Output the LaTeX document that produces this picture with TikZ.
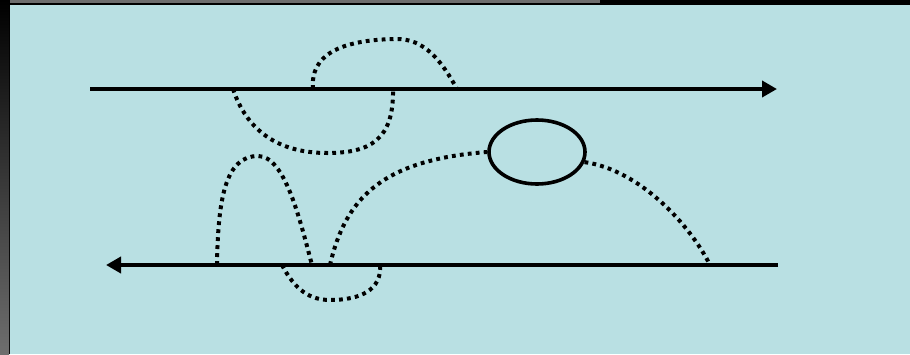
\documentclass[tikz,border=0pt]{standalone}
\usepackage{xcolor}
\definecolor{slidecyan}{HTML}{B9E0E3}
\definecolor{framegrey}{HTML}{6E6E6E}
\usepackage{tikz}
\usetikzlibrary{shapes.geometric,arrows.meta,positioning}

\begin{document}
\begin{tikzpicture}[x=1pt,y=-1pt,
    flowline/.style={line width=4.4pt,-{Triangle[length=15pt,width=16pt]}},
    loopline/.style={line width=4pt,dash pattern=on 3.8pt off 4.2pt},
    ring/.style={draw,ellipse,line width=3.6pt,minimum width=96pt,minimum height=64pt,inner sep=0pt}]
  \useasboundingbox (0,0) rectangle (910,354);
  % frame
  \fill[black] (0,0) rectangle (910,354);
  \shade[top color=black,bottom color=framegrey] (0,0) rectangle (9,354);
  \fill[framegrey] (10,0) rectangle (600,3);
  \fill[slidecyan] (10,5) rectangle (910,354);

  \coordinate (topL) at (90,89);
  \coordinate (topR) at (777,89);
  \coordinate (botR) at (778,265);
  \coordinate (botL) at (106,265);
  \draw[flowline] (topL) -- (topR);
  \draw[flowline] (botR) -- (botL);

  \node[ring] (knot) at (537,152) {};

  % crossings on the upper line
  \coordinate (u1) at (233,89);
  \coordinate (u2) at (313,89);
  \coordinate (u3) at (393,89);
  \coordinate (u4) at (457,89);
  \draw[loopline] (u2) .. controls (310,55) and (340,40) .. (395,39)
                       .. controls (425,38) and (442,62) .. (u4);
  \draw[loopline] (u1) .. controls (250,140) and (290,153) .. (327,153)
                       .. controls (370,153) and (394,140) .. (u3);

  % crossings on the lower line
  \coordinate (d1) at (217,265);
  \coordinate (d2) at (282,265);
  \coordinate (d3) at (312,265);
  \coordinate (d4) at (330,265);
  \coordinate (d5) at (380,265);
  \coordinate (d6) at (710,265);
  \draw[loopline] (d1) .. controls (218,200) and (225,156) .. (258,156)
                       .. controls (285,156) and (300,220) .. (d3);
  \draw[loopline] (d2) .. controls (295,290) and (310,300) .. (330,300)
                       .. controls (360,300) and (382,290) .. (d5);
  \draw[loopline] (d4) .. controls (345,200) and (380,160) .. (knot.west);
  \draw[loopline] (knot.-12) .. controls (640,170) and (690,225) .. (d6);
\end{tikzpicture}
\end{document}
